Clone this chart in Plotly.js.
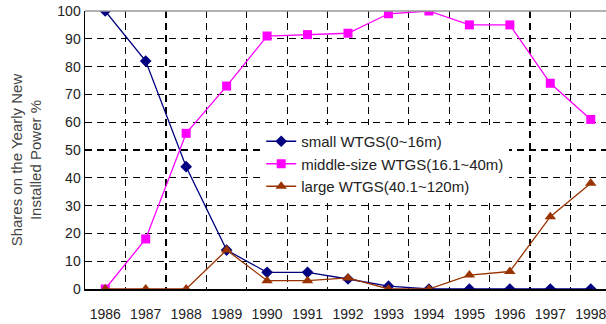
<!DOCTYPE html>
<html>
<head>
<meta charset="utf-8">
<script src="https://cdn.plot.ly/plotly-3.0.1.min.js"></script>
<style>
html,body{margin:0;padding:0;overflow:hidden;background:#fff;width:606px;height:324px;}
#chart{width:640px;height:324px;}
</style>
</head>
<body>
<div id="chart"></div>
<script>
var years = ['1986','1987','1988','1989','1990','1991','1992','1993','1994','1995','1996','1997','1998'];
var smallWTGS = [100, 82, 44, 14, 6, 6, 3.6, 1, 0, 0, 0, 0, 0];
var middleWTGS = [0, 18, 56, 73, 91, 91.5, 92, 99, 100, 95, 95, 74, 61];
var largeWTGS = [0, 0, 0, 14, 3, 3, 4, 0, 0, 5, 6.3, 26, 38];
var seriesNames = ['small WTGS(0~16m)', 'middle-size WTGS(16.1~40m)', 'large WTGS(40.1~120m)'];
var yTitle = 'Shares on the Yearly New<br>Installed Power %';

var fontFam = 'Liberation Sans, Arial, sans-serif';

var traces = [
  {x: years, y: smallWTGS, name: seriesNames[0], type: 'scatter', mode: 'lines+markers',
   line: {color: '#000080', width: 1.3}, marker: {symbol: 'diamond', size: 9, color: '#000080'}},
  {x: years, y: middleWTGS, name: seriesNames[1], type: 'scatter', mode: 'lines+markers',
   line: {color: '#FF00FF', width: 1.3}, marker: {symbol: 'square', size: 9, color: '#FF00FF'}},
  {x: years, y: largeWTGS, name: seriesNames[2], type: 'scatter', mode: 'lines+markers',
   line: {color: '#993300', width: 1.3}, marker: {symbol: 'triangle-up', size: 10, color: '#993300'}}
];

var layout = {
  width: 640, height: 324,
  margin: {l: 85, r: 29, t: 11, b: 35},
  paper_bgcolor: '#fff', plot_bgcolor: '#fff',
  font: {family: fontFam, size: 14, color: '#222'},
  showlegend: true,
  legend: {x: 0.335, y: 0.59, xanchor: 'left', yanchor: 'top', bgcolor: '#fff',
    borderwidth: 0, font: {family: fontFam, size: 15, color: '#222'}},
  xaxis: {type: 'category', range: [-0.5, 12.5], tickson: 'boundaries',
    showgrid: true, gridcolor: '#000', gridwidth: 1.2, griddash: '7px,5px',
    showline: true, linecolor: '#000', linewidth: 1.5, ticks: '', ticklabelstandoff: 12,
    tickfont: {family: fontFam, size: 14, color: '#222'}, zeroline: false},
  yaxis: {range: [0, 100], dtick: 10, tick0: 0,
    showgrid: true, gridcolor: '#000', gridwidth: 1.2, griddash: '7px,5px',
    showline: true, linecolor: '#000', linewidth: 1.5, ticks: '', zeroline: false,
    tickfont: {family: fontFam, size: 14, color: '#222'}},
  annotations: [{text: yTitle, xref: 'paper', yref: 'paper', x: -0.111, y: 0.465,
    xanchor: 'center', yanchor: 'middle', textangle: -90, showarrow: false,
    font: {family: fontFam, size: 15, color: '#444'}}],
  shapes: [{type: 'line', xref: 'paper', yref: 'paper', x0: 0, x1: 1, y0: 1, y1: 1,
    line: {color: '#999', width: 1.5}}]
};

Plotly.newPlot('chart', traces, layout, {displayModeBar: false, staticPlot: true});
</script>
</body>
</html>
